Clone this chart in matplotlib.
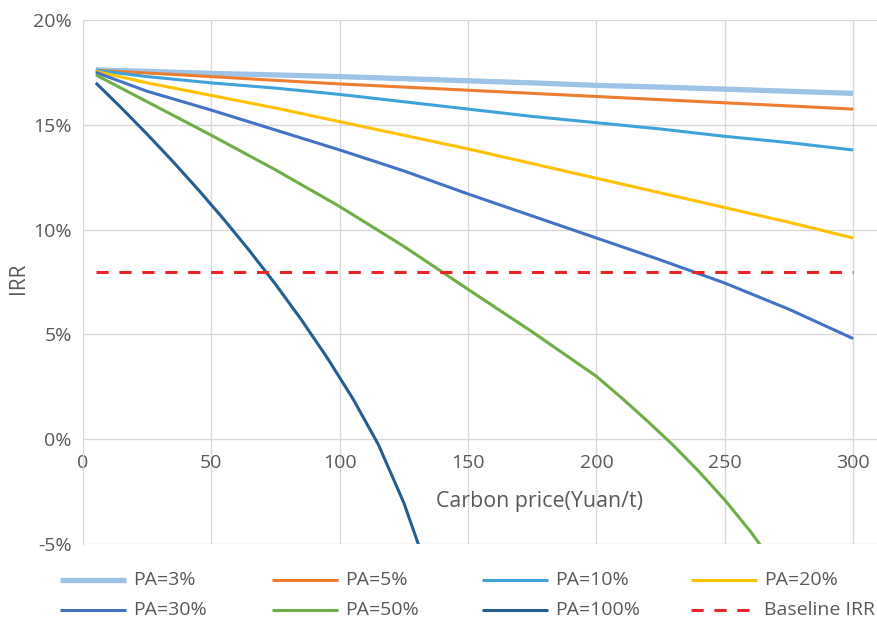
import matplotlib
matplotlib.use("Agg")
import matplotlib.pyplot as plt
from matplotlib.lines import Line2D

plt.rcParams['font.family'] = ['Open Sans', 'DejaVu Sans']

price = [5, 25, 50, 75, 100, 125, 150, 175, 200, 225, 250, 275, 300]

pa3 = [17.62, 17.55, 17.45, 17.38, 17.3, 17.2, 17.1, 17.0, 16.88, 16.8, 16.7, 16.6, 16.5]
pa5 = [17.6, 17.47, 17.3, 17.12, 16.95, 16.8, 16.65, 16.5, 16.35, 16.2, 16.05, 15.9, 15.75]
pa10 = [17.6, 17.3, 17.0, 16.75, 16.45, 16.1, 15.75, 15.4, 15.1, 14.8, 14.45, 14.15, 13.8]
pa20 = [17.55, 17.0, 16.4, 15.8, 15.15, 14.5, 13.85, 13.15, 12.45, 11.75, 11.05, 10.35, 9.6]
pa30 = [17.5, 16.6, 15.7, 14.75, 13.8, 12.8, 11.7, 10.65, 9.6, 8.55, 7.45, 6.2, 4.8]

price50 = [5, 25, 50, 75, 100, 125, 150, 175, 200, 210, 220, 230, 240, 250, 260, 270]
pa50 = [17.38, 16.1, 14.5, 12.85, 11.1, 9.2, 7.15, 5.12, 3.0, 1.95, 0.85, -0.3, -1.55, -2.9, -4.4, -6.1]

price100 = [5, 15, 25, 35, 45, 55, 65, 75, 85, 95, 105, 115, 125, 135]
pa100 = [17.0, 15.8, 14.55, 13.25, 11.89, 10.47, 8.97, 7.39, 5.71, 3.91, 1.96, -0.24, -3.04, -6.54]

baseline = [8] * len(price)

series = [
    ('PA=3%', price, pa3, '#9DC3E6', 3.8),
    ('PA=5%', price, pa5, '#ED7D31', 2.2),
    ('PA=10%', price, pa10, '#3FA3DA', 2.2),
    ('PA=20%', price, pa20, '#FFC000', 2.2),
    ('PA=30%', price, pa30, '#4472C4', 2.2),
    ('PA=50%', price50, pa50, '#70AD47', 2.2),
    ('PA=100%', price100, pa100, '#255E91', 2.2),
]

W, H = 877, 621
fig = plt.figure(figsize=(W / 100, H / 100), dpi=100)
ax = fig.add_axes([83 / W, 1 - 544 / H, 1 - 83 / W, 524 / H])

for label, xs, vals, color, lw in series:
    ax.plot(xs, vals, color=color, lw=lw, solid_capstyle='butt')
ax.plot(price, baseline, color='#E8262A', lw=2.2, dashes=(4, 3.5))

ax.set_xlim(0, 309.3)
ax.set_ylim(-5, 20)
ax.set_xticks([0, 50, 100, 150, 200, 250, 300])
ax.set_yticks([-5, 0, 5, 10, 15, 20])
ax.set_yticklabels(['-5%', '0%', '5%', '10%', '15%', '20%'])

ax.grid(True, color='#D9D9D9', lw=1)
ax.set_axisbelow(True)
for s in ['top', 'right']:
    ax.spines[s].set_visible(False)
ax.spines['left'].set_color('#D9D9D9')
ax.spines['bottom'].set_position(('data', 0))
ax.spines['bottom'].set_visible(False)
ax.tick_params(length=0, labelsize=14, colors='#595959')
ax.tick_params(axis='x', pad=11)
ax.tick_params(axis='y', pad=8)

fig.text(539 / W, 1 - 501 / H, 'Carbon price(Yuan/t)', ha='center', va='center',
         fontsize=15.4, color='#595959')
fig.text(18 / W, 1 - 278 / H, 'IRR', ha='center', va='center', rotation=90,
         fontsize=15, color='#595959')

# legend drawn by hand: 2 rows x 4 columns
leg = [(s[0], s[3], s[4], None) for s in series] + [('Baseline IRR', '#E8262A', 2.2, (4, 3.5))]
col_x = [60, 272, 482, 691]
row_y = [580, 610]
for i, (label, color, lw, dash) in enumerate(leg):
    x0 = col_x[i % 4]
    y0 = row_y[i // 4]
    ln = Line2D([x0 / W, (x0 + 66) / W], [1 - y0 / H, 1 - y0 / H], transform=fig.transFigure,
                color=color, lw=lw, solid_capstyle='butt')
    if dash:
        ln.set_dashes(dash)
    fig.add_artist(ln)
    fig.text((x0 + 73) / W, 1 - y0 / H, label, ha='left', va='center', fontsize=14,
             color='#595959')

fig.savefig('out.png', dpi=100)
